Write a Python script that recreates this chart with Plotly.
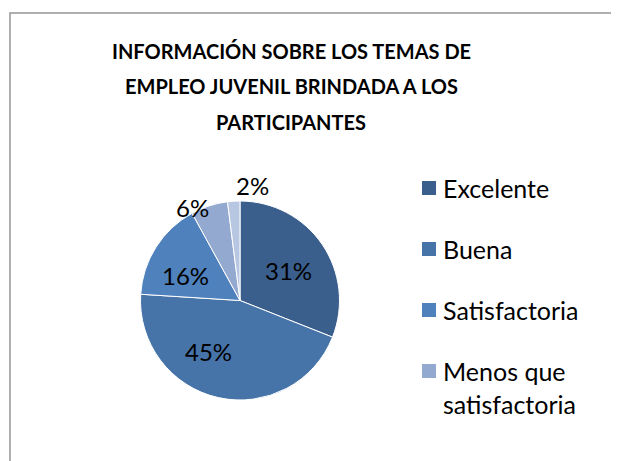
import plotly.graph_objects as go

W, H = 619, 461
OFF = 8  # default body margin of the written page

title_lines = ["INFORMACIÓN SOBRE LOS TEMAS DE", "EMPLEO JUVENIL BRINDADA A LOS", "PARTICIPANTES"]
categories = ["Excelente", "Buena", "Satisfactoria", "Menos que<br>satisfactoria", "Deficiente"]
values = [31, 45, 16, 6, 2]
colors = ["#3B5F8D", "#4673A8", "#4F81BD", "#94A9CF", "#B8C7E1"]
legend_count = 4  # legend is cut off in the original after 4 entries

# style: label positions (page px) chosen as in the original's best-fit layout
label_pos = [(288, 270), (208, 351), (185, 275), (192, 207), (252, 185)]

FONT = "Lato, sans-serif"


def px(x):
    return (x - OFF) / W


def py(y):
    return 1 - (y - OFF) / H


total = sum(values)

fig = go.Figure()
fig.add_trace(go.Pie(
    labels=categories,
    values=values,
    sort=False,
    direction="clockwise",
    rotation=0,
    marker=dict(colors=colors, line=dict(color="white", width=1)),
    textinfo="none",
    showlegend=False,
    hoverinfo="label+percent",
    domain=dict(x=[px(140.5), px(339.5)], y=[py(400), py(201)]),
    automargin=False,
))

shapes = [dict(type="rect", xref="paper", yref="paper",
               x0=px(10), x1=px(700), y0=py(13), y1=py(520),
               line=dict(color="#959595", width=1.5), fillcolor="rgba(0,0,0,0)")]
annotations = []
for i, line in enumerate(title_lines):
    annotations.append(dict(text="<b>%s</b>" % line, xref="paper", yref="paper",
                            x=px(291), y=py(51 + i * 35.5), showarrow=False,
                            xanchor="center", yanchor="middle",
                            font=dict(family=FONT, size=20, color="black")))

for v, (lx, ly) in zip(values, label_pos):
    annotations.append(dict(text="%d%%" % round(100 * v / total), xref="paper", yref="paper",
                            x=px(lx), y=py(ly), showarrow=False,
                            xanchor="center", yanchor="middle",
                            font=dict(family=FONT, size=24, color="black")))

leg_y = [188, 249, 310, 371]
for i in range(legend_count):
    y = leg_y[i]
    shapes.append(dict(type="rect", xref="paper", yref="paper",
                       x0=px(422), x1=px(436), y0=py(y - 7), y1=py(y + 7),
                       fillcolor=colors[i], line=dict(width=0)))
    annotations.append(dict(text=categories[i], xref="paper", yref="paper",
                            x=px(441), y=py(y - 17), showarrow=False,
                            xanchor="left", yanchor="top", align="left",
                            font=dict(family=FONT, size=25, color="black")))

fig.update_layout(
    width=W, height=H,
    margin=dict(l=0, r=0, t=0, b=0),
    paper_bgcolor="white",
    plot_bgcolor="white",
    shapes=shapes,
    annotations=annotations,
)

fig.write_html("out.html")
